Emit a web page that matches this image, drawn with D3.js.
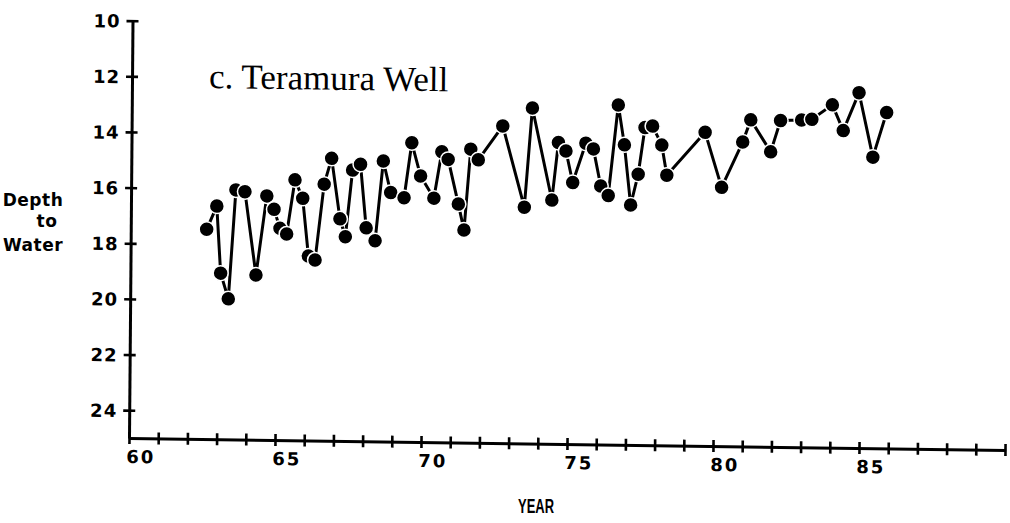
<!DOCTYPE html>
<html>
<head>
<meta charset="utf-8">
<script src="https://cdn.jsdelivr.net/npm/d3@7"></script>
<style>
  html, body { margin: 0; padding: 0; background: #fff; }
  svg { display: block; }
</style>
</head>
<body>
<svg id="chart" width="1010" height="523"></svg>
<script>
// ---- data ----
const years = [62.60,62.94,63.09,63.36,63.59,63.90,64.30,64.65,64.90,65.11,
  65.34,65.61,65.88,66.09,66.32,66.61,66.86,67.16,67.35,67.58,
  67.85,68.06,68.37,68.63,68.89,69.35,69.60,69.91,70.37,70.63,
  70.85,71.21,71.41,71.62,71.88,72.71,73.47,73.72,74.41,74.62,
  74.88,75.12,75.56,75.82,76.08,76.34,76.66,76.88,77.11,77.36,
  77.58,77.84,78.16,78.34,79.64,80.22,80.93,81.20,81.89,82.22,
  82.94,83.29,83.99,84.37,84.90,85.39,85.85];
const depths = [17.46,16.62,19.03,19.95,16.03,16.09,19.08,16.23,16.71,17.39,
  17.59,15.64,16.30,18.37,18.51,15.78,14.85,17.02,17.66,15.26,
  15.05,17.33,17.79,14.92,16.05,16.23,14.25,15.44,16.23,14.56,
  14.83,16.43,17.36,14.45,14.83,13.60,16.51,12.94,16.24,14.17,
  14.47,15.60,14.18,14.38,15.71,16.05,12.79,14.22,16.38,15.27,
  13.59,13.53,14.21,15.29,13.73,15.70,14.06,13.26,14.40,13.27,
  13.24,13.21,12.68,13.60,12.23,14.54,12.93];
const xTicks = d3.range(60, 91, 1);
const xLabelled = [60, 65, 70, 75, 80, 85];
const yTicks = [10, 12, 14, 16, 18, 20, 22, 24];
const title = "c. Teramura Well";
const yTitle = ["Depth", "to", "Water"];
const xTitle = "YEAR";

const svg = d3.select("#chart");
svg.append("rect").attr("width", 1010).attr("height", 523).attr("fill", "#fff");

// slight scan tilt of the original figure
const g = svg.append("g").attr("transform", "matrix(1,0.0137,-0.0084,1,129,438)");

const x = d3.scaleLinear().domain([60, 90]).range([0, 876]);
const y = d3.scaleLinear().domain([25, 10]).range([0, -417.3]);

const labelFont = "'DejaVu Sans', Verdana, sans-serif";

// x axis: d3 axis with crossing ticks
const xa = g.append("g").call(
  d3.axisBottom(x).tickValues(xTicks).tickSizeOuter(0).tickSizeInner(6).tickPadding(0)
    .tickFormat(d => xLabelled.includes(d) ? d : "")
);
xa.select(".domain").attr("stroke", "#000").attr("stroke-width", 3);
xa.selectAll(".tick line").attr("y1", -6).attr("y2", 6)
  .attr("stroke", "#000").attr("stroke-width", 2.6);
xa.selectAll(".tick text")
  .attr("y", 25).attr("dy", 0)
  .attr("text-anchor", "start").attr("x", -3)
  .style("font-family", labelFont).style("font-weight", "bold")
  .style("font-size", "18px").style("letter-spacing", "2px").attr("fill", "#000");

// y axis: d3 axis with crossing ticks
const ya = g.append("g").call(
  d3.axisLeft(y).tickValues(yTicks).tickSizeOuter(0).tickSizeInner(6).tickPadding(0)
);
ya.select(".domain").attr("stroke", "#000").attr("stroke-width", 3);
ya.selectAll(".tick line").attr("x1", 6).attr("x2", -6)
  .attr("stroke", "#000").attr("stroke-width", 2.6);
ya.selectAll(".tick text")
  .attr("x", -12).attr("dy", "0.36em")
  .attr("text-anchor", "end")
  .style("font-family", labelFont).style("font-weight", "bold")
  .style("font-size", "18px").style("letter-spacing", "1px").attr("fill", "#000");

// title
g.append("text").attr("x", 77).attr("y", -351)
  .style("font-family", "'Liberation Serif', 'Times New Roman', serif")
  .style("font-size", "35px").attr("fill", "#000").text(title);

// data line + dots
const line = d3.line().x((d, i) => x(years[i])).y(d => y(d));
g.append("path").datum(depths).attr("d", line)
  .attr("fill", "none").attr("stroke", "#000").attr("stroke-width", 3).attr("stroke-linejoin", "round");
g.selectAll("circle.pt").data(depths).join("circle").attr("class", "pt")
  .attr("cx", (d, i) => x(years[i])).attr("cy", d => y(d)).attr("r", 7.5)
  .attr("fill", "#000").attr("stroke", "#fff").attr("stroke-width", 1.5);

// axis titles
const yt = svg.append("g").style("font-family", labelFont).style("font-weight", "bold")
  .style("font-size", "17px").style("letter-spacing", "0.5px");
const ytPos = [[33, 206], [47, 227], [33, 251]];
yt.selectAll("text").data(yTitle).join("text")
  .attr("x", (d, i) => ytPos[i][0]).attr("y", (d, i) => ytPos[i][1])
  .attr("text-anchor", "middle").attr("fill", "#000").text(d => d);

svg.append("text").attr("x", 518).attr("y", 513)
  .attr("textLength", 36).attr("lengthAdjust", "spacingAndGlyphs")
  .style("font-family", "'Liberation Sans', Arial, sans-serif").style("font-weight", "bold")
  .style("font-size", "20px").attr("fill", "#000")
  .text(xTitle);
</script>
</body>
</html>
